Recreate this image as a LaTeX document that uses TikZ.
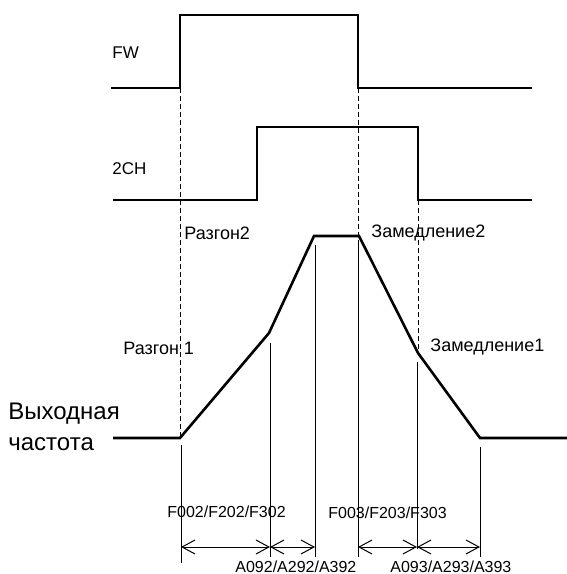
\documentclass[tikz,border=0pt]{standalone}
\usepackage{fontspec}
\setmainfont{Liberation Sans}
\usetikzlibrary{arrows.meta}

\begin{document}
\begin{tikzpicture}[x=0.5pt, y=-0.5pt,
    signal/.style={line width=1.3pt},
    guide/.style={line width=0.5pt, dash pattern=on 2.5pt off 1.5pt},
    limit/.style={line width=0.5pt},
    dim/.style={line width=0.5pt, {Straight Barb[length=6.5pt, width=7pt]}-{Straight Barb[length=6.5pt, width=7pt]}},
    lbl/.style={anchor=west, inner sep=0pt, font=\fontsize{8}{9.6}\selectfont},
    phase/.style={lbl, font=\fontsize{9}{10.8}\selectfont}]
    \useasboundingbox (0,0) rectangle (567,574);

    % Input signals
    \node[lbl, font=\fontsize{8.5}{10}\selectfont] (fw) at (112,53) {FW};
    \draw[signal] (111,88) -- (180,88) -- (180,15) -- (358,15) -- (358,88) -- (532,88);

    \node[lbl, font=\fontsize{8.5}{10}\selectfont] (ch) at (112,169) {2CH};
    \draw[signal] (113,200) -- (257,200) -- (257,127) -- (418,127) -- (418,200) -- (532,200);

    % Output frequency
    \coordinate (f0) at (180,438);
    \coordinate (f1) at (269,333);
    \coordinate (f2) at (314,236);
    \coordinate (f3) at (359,236);
    \coordinate (f4) at (418,353);
    \coordinate (f5) at (480,438);
    \draw[signal] (113,438) -- (f0) -- (f1) -- (f2) -- (f3) -- (f4) -- (f5) -- (567,438);

    \node[anchor=west, inner sep=0pt, align=left, font=\fontsize{12}{15.8}\selectfont] (fout) at (8,427) {Выходная\\частота};
    \node[phase] (acc2) at (184,233) {Разгон2};
    \node[phase] (dec2) at (371,233) {Замедление2};
    \node[phase] (acc1) at (123,348) {Разгон 1};
    \node[phase] (dec1) at (430,347) {Замедление1};

    % Dashed guides
    \draw[guide] (180,88) -- (f0);
    \draw[guide] (358,88) -- (358,320);
    \draw[guide] (418,200) -- (f4);

    % Time limits
    \coordinate (t0) at (181,547);
    \coordinate (t1) at (270,547);
    \coordinate (t2) at (315,547);
    \coordinate (t3) at (358,547);
    \coordinate (t4) at (417,547);
    \coordinate (t5) at (480,547);
    \draw[limit] (181,445) -- (181,563);
    \draw[limit] (270,343) -- (270,557);
    \draw[limit] (315,245) -- (315,557);
    \draw[limit] (358,242) -- (358,557);
    \draw[limit] (417,362) -- (417,549);
    \draw[limit] (480,447) -- (480,557);

    \draw[dim] (t0) -- (t1);
    \draw[dim] (t1) -- (t2);
    \draw[dim] (t3) -- (t4);
    \draw[dim] (t4) -- (t5);

    \node[lbl] (tacc1) at (167,512) {F002/F202/F302};
    \node[lbl] (tdec1) at (328,513) {F003/F203/F303};
    \node[lbl] (tacc2) at (235,567) {A092/A292/A392};
    \node[lbl] (tdec2) at (390,567) {A093/A293/A393};
\end{tikzpicture}
\end{document}
